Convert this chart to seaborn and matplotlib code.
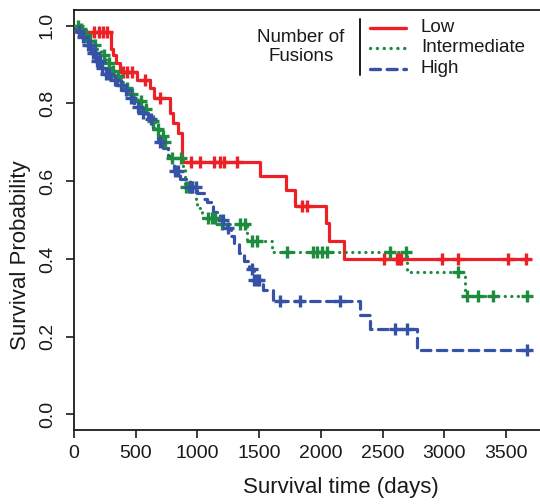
import numpy as np
import pandas as pd
import matplotlib
matplotlib.use("Agg")
import matplotlib.pyplot as plt
from matplotlib.lines import Line2D
import seaborn as sns

# Kaplan-Meier step functions: event times (days) and survival after each step
low_times = [0, 20, 297, 319, 340, 373, 508, 616, 645, 778, 805, 845, 873,
             1507, 1718, 1791, 2039, 2067, 2188]
low_surv = [1.0, 0.984, 0.941, 0.924, 0.903, 0.881, 0.860, 0.840, 0.815,
            0.774, 0.749, 0.723, 0.650, 0.614, 0.578, 0.535, 0.492, 0.445, 0.400]
low_censor = [160, 200, 235, 270, 400, 427, 467, 575, 697, 950, 1021, 1135,
              1185, 1215, 1323, 1845, 1886, 2512, 2615, 2634, 2647, 2980,
              3110, 3515, 3663]

mid_times = [0, 40, 80, 113, 150, 190, 221, 260, 302, 340, 380, 411, 450,
             490, 519, 560, 600, 626, 660, 700, 724, 760, 880, 900, 985,
             1000, 1040, 1150, 1399, 1602, 2696, 3168]
mid_surv = [1.0, 0.99, 0.975, 0.96, 0.95, 0.935, 0.925, 0.905, 0.882, 0.87,
            0.855, 0.84, 0.825, 0.815, 0.805, 0.785, 0.77, 0.754, 0.735,
            0.715, 0.70, 0.66, 0.637, 0.585, 0.555, 0.53, 0.505, 0.49,
            0.445, 0.418, 0.366, 0.304]
mid_censor = [30, 60, 95, 130, 170, 240, 280, 320, 360, 430, 470, 540, 580,
              640, 680, 720, 740, 790, 870, 910, 935, 960, 1088, 1116, 1143,
              1197, 1345, 1386, 1440, 1480, 1723, 1939, 1967, 2007, 2048,
              2561, 2690, 3114, 3182, 3277, 3398, 3668]

high_times = [0, 30, 60, 100, 140, 180, 220, 250, 300, 350, 400, 440, 490,
              540, 600, 640, 680, 720, 760, 790, 810, 860, 940, 1000, 1050,
              1080, 1130, 1180, 1240, 1270, 1300, 1340, 1380, 1420, 1460,
              1530, 1615, 2318, 2399, 2777]
high_surv = [1.0, 0.985, 0.97, 0.95, 0.93, 0.91, 0.89, 0.875, 0.86, 0.848,
             0.835, 0.815, 0.79, 0.775, 0.76, 0.735, 0.70, 0.685, 0.665,
             0.645, 0.625, 0.605, 0.585, 0.57, 0.555, 0.545, 0.52, 0.50,
             0.48, 0.46, 0.44, 0.415, 0.395, 0.375, 0.345, 0.32, 0.293,
             0.257, 0.22, 0.167]
high_censor = [40, 70, 110, 130, 150, 170, 190, 210, 230, 260, 280, 330,
               380, 420, 460, 520, 560, 620, 700, 820, 840, 940, 960, 990,
               1210, 1250, 1440, 1460, 1480, 1500, 1669, 1831, 2155, 2601,
               2696, 3668]

group_names = ["Low", "Intermediate", "High"]
group_colors = ["#EC2027", "#1E8C3E", "#3552A6"]
group_styles = ["-", (0, (0.05, 2.0)), (0, (3.0, 2.0))]

x_ticks = [0, 500, 1000, 1500, 2000, 2500, 3000, 3500]
y_ticks = [0.0, 0.2, 0.4, 0.6, 0.8, 1.0]
y_tick_labels = ["0.0", "0.2", "0.4", "0.6", "0.8", "1.0"]

sns.set_style("ticks")
plt.rcParams["font.family"] = ["Liberation Sans", "DejaVu Sans"]

W, H = 540, 504
fig = plt.figure(figsize=(W / 100, H / 100), dpi=100)
ax = fig.add_axes([74 / W, 74 / H, 469 / W, 420 / H])

curves = [(low_times, low_surv, low_censor),
          (mid_times, mid_surv, mid_censor),
          (high_times, high_surv, high_censor)]

for (times, surv, censor), name, col, ls in zip(curves, group_names,
                                                group_colors, group_styles):
    t_end = max(censor)
    df = pd.DataFrame({"time": list(times) + [t_end],
                       "surv": list(surv) + [surv[-1]]})
    sns.lineplot(data=df, x="time", y="surv", drawstyle="steps-post",
                 estimator=None, sort=False, color=col, linestyle=ls,
                 linewidth=2.3, ax=ax, legend=False,
                 dash_capstyle="round")
    idx = np.searchsorted(np.asarray(times), np.asarray(censor), side="right") - 1
    cdf = pd.DataFrame({"time": censor, "surv": np.asarray(surv)[idx]})
    sns.scatterplot(data=cdf, x="time", y="surv", marker="+", s=80,
                    color=col, linewidth=2.4, ax=ax, legend=False, zorder=3)

ax.set_xlim(0, 3800)
ax.set_ylim(-0.04, 1.04)
ax.set_xticks(x_ticks)
ax.set_xticklabels([str(v) for v in x_ticks])
ax.set_yticks(y_ticks)
ax.set_yticklabels(y_tick_labels)
ax.tick_params(direction="out", length=6, width=1.2, labelsize=14,
               colors="#1a1a1a", pad=5)
ax.tick_params(axis="y", labelrotation=90, pad=7)
plt.setp(ax.get_yticklabels(), va="center")
for sp in ax.spines.values():
    sp.set_linewidth(1.3)
    sp.set_color("#1a1a1a")

ax.set_xlabel("Survival time (days)", fontsize=16, color="#1a1a1a")
ax.set_ylabel("Survival Probability", fontsize=16, color="#1a1a1a")
ax.xaxis.label.set_va("center")
ax.yaxis.label.set_va("center")
ax.xaxis.set_label_coords((341 - 74) / 469, (430 - 487) / 420)
ax.yaxis.set_label_coords((21 - 74) / 469, (430 - 255) / 420)

# legend block drawn in figure pixel coordinates
def fx(px):
    return px / W

def fy(py):
    return 1 - py / H

fig.text(fx(301), fy(47), "Number of\nFusions", ha="center", va="center",
         fontsize=13.5, linespacing=1.2, color="#1a1a1a")
fig.add_artist(Line2D([fx(360), fx(360)], [fy(19), fy(75)],
                      transform=fig.transFigure, color="#1a1a1a", lw=1.4))
for name, col, ls, py in zip(group_names, group_colors, group_styles,
                             [28, 48, 68.5]):
    fig.add_artist(Line2D([fx(370), fx(406)], [fy(py), fy(py)],
                          transform=fig.transFigure, color=col, lw=2.4,
                          linestyle=ls, dash_capstyle="round"))
    fig.text(fx(421), fy(py), name, ha="left", va="center", fontsize=13.5,
             color="#1a1a1a")

fig.savefig("out.png", dpi=100)
